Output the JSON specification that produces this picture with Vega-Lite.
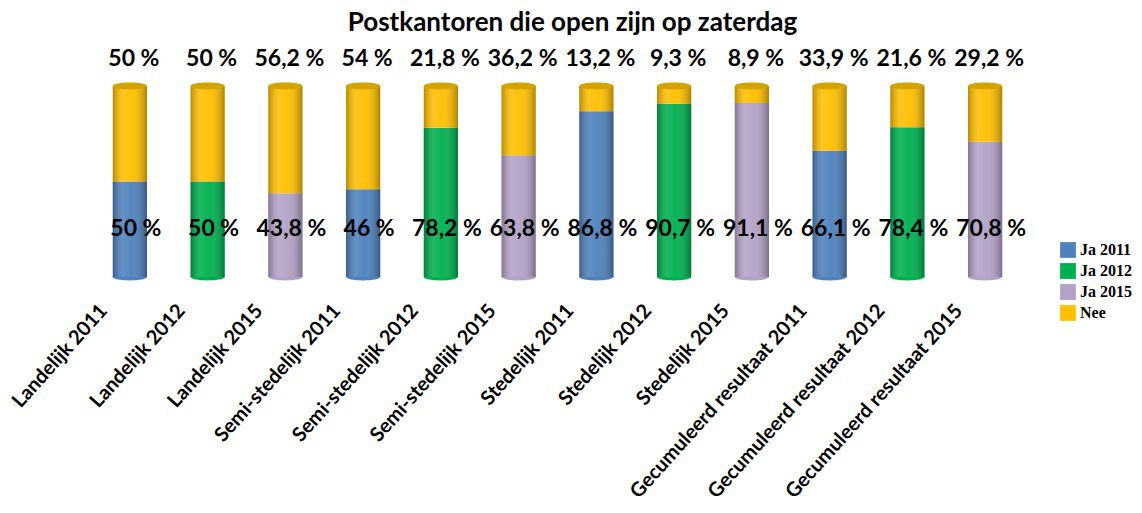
{
  "$schema": "https://vega.github.io/schema/vega-lite/v6.json",
  "autosize": {"type": "none"},
  "width": 933,
  "height": 191,
  "padding": {"left": 91, "top": 86, "right": 118, "bottom": 236},
  "background": "white",
  "view": {"stroke": null},
  "title": {
    "text": "Postkantoren die open zijn op zaterdag",
    "font": "Lato",
    "fontSize": 26,
    "fontWeight": "bold",
    "color": "#000000",
    "anchor": "middle",
    "dx": 15,
    "offset": 12
  },
  "data": {
    "values": [
      {"cat": "Landelijk 2011", "serie": "Ja 2011", "value": 50},
      {"cat": "Landelijk 2011", "serie": "Nee", "value": 50},
      {"cat": "Landelijk 2012", "serie": "Ja 2012", "value": 50},
      {"cat": "Landelijk 2012", "serie": "Nee", "value": 50},
      {"cat": "Landelijk 2015", "serie": "Ja 2015", "value": 43.8},
      {"cat": "Landelijk 2015", "serie": "Nee", "value": 56.2},
      {"cat": "Semi-stedelijk 2011", "serie": "Ja 2011", "value": 46},
      {"cat": "Semi-stedelijk 2011", "serie": "Nee", "value": 54},
      {"cat": "Semi-stedelijk 2012", "serie": "Ja 2012", "value": 78.2},
      {"cat": "Semi-stedelijk 2012", "serie": "Nee", "value": 21.8},
      {"cat": "Semi-stedelijk 2015", "serie": "Ja 2015", "value": 63.8},
      {"cat": "Semi-stedelijk 2015", "serie": "Nee", "value": 36.2},
      {"cat": "Stedelijk 2011", "serie": "Ja 2011", "value": 86.8},
      {"cat": "Stedelijk 2011", "serie": "Nee", "value": 13.2},
      {"cat": "Stedelijk 2012", "serie": "Ja 2012", "value": 90.7},
      {"cat": "Stedelijk 2012", "serie": "Nee", "value": 9.3},
      {"cat": "Stedelijk 2015", "serie": "Ja 2015", "value": 91.1},
      {"cat": "Stedelijk 2015", "serie": "Nee", "value": 8.9},
      {"cat": "Gecumuleerd resultaat 2011", "serie": "Ja 2011", "value": 66.1},
      {"cat": "Gecumuleerd resultaat 2011", "serie": "Nee", "value": 33.9},
      {"cat": "Gecumuleerd resultaat 2012", "serie": "Ja 2012", "value": 78.4},
      {"cat": "Gecumuleerd resultaat 2012", "serie": "Nee", "value": 21.6},
      {"cat": "Gecumuleerd resultaat 2015", "serie": "Ja 2015", "value": 70.8},
      {"cat": "Gecumuleerd resultaat 2015", "serie": "Nee", "value": 29.2}
    ]
  },
  "transform": [
    {"calculate": "replace(toString(datum.value), '.', ',') + ' %'", "as": "label"}
  ],
  "encoding": {
    "x": {
      "field": "cat",
      "type": "nominal",
      "sort": null,
      "title": null,
      "scale": {"paddingInner": 0.56, "paddingOuter": 0.28},
      "axis": {
        "domain": false,
        "ticks": false,
        "grid": false,
        "labelAngle": -48,
        "labelFont": "Lato",
        "labelFontSize": 20,
        "labelFontWeight": "bold",
        "labelColor": "#000000",
        "labelPadding": 30,
        "labelOffset": -26,
        "labelLimit": 400
      }
    }
  },
  "layer": [
    {
      "transform": [{"filter": "datum.serie != 'Nee'"}],
      "mark": {"type": "point", "shape": "M -1 0 A 1 0.2 0 1 1 1 0 A 1 0.2 0 1 1 -1 0 Z", "filled": true, "opacity": 1, "size": 1170},
      "encoding": {
        "y": {"datum": 0, "type": "quantitative", "scale": {"domain": [0, 100], "nice": false}, "axis": null},
        "color": {"field": "serie", "type": "nominal"}
      }
    },
    {
      "mark": {"type": "bar"},
      "encoding": {
        "y": {"field": "value", "type": "quantitative", "stack": "zero", "scale": {"domain": [0, 100], "nice": false}, "axis": null},
        "order": {"field": "serie", "sort": "ascending"},
        "color": {
          "field": "serie",
          "type": "nominal",
          "scale": {"domain": ["Ja 2011", "Ja 2012", "Ja 2015", "Nee"], "range": ["#4f81bd", "#00b050", "#b3a2c7", "#ffc000"]},
          "legend": {
            "title": null,
            "orient": "none",
            "legendX": 969,
            "legendY": 156,
            "symbolType": "square",
            "symbolSize": 250,
            "symbolStrokeWidth": 0,
            "labelFont": "Liberation Serif",
            "labelFontSize": 16,
            "labelFontWeight": "bold",
            "labelColor": "#000000",
            "rowPadding": 5,
            "padding": 0
          }
        }
      }
    },
    {
      "transform": [{"filter": "datum.serie == 'Nee'"}],
      "mark": {
        "type": "bar",
        "color": {
          "gradient": "linear",
          "x1": 0, "y1": 0, "x2": 1, "y2": 0,
          "stops": [
            {"offset": 0, "color": "rgba(0,0,0,0.28)"},
            {"offset": 0.3, "color": "rgba(255,255,255,0.12)"},
            {"offset": 0.55, "color": "rgba(255,255,255,0.04)"},
            {"offset": 1, "color": "rgba(0,0,0,0.32)"}
          ]
        }
      },
      "encoding": {
        "y": {"datum": 100, "type": "quantitative"},
        "y2": {"datum": 0}
      }
    },
    {
      "transform": [{"filter": "datum.serie == 'Nee'"}],
      "mark": {"type": "point", "shape": "M -1 0 A 1 0.2 0 1 1 1 0 A 1 0.2 0 1 1 -1 0 Z", "filled": true, "opacity": 1, "size": 1170, "color": "#d4a300"},
      "encoding": {
        "y": {"datum": 100, "type": "quantitative"}
      }
    },
    {
      "transform": [{"filter": "datum.serie == 'Nee'"}],
      "mark": {"type": "text", "font": "Lato", "fontSize": 23, "fontWeight": "bold", "color": "#000000", "baseline": "middle", "dx": 4},
      "encoding": {
        "y": {"datum": 114, "type": "quantitative"},
        "text": {"field": "label"}
      }
    },
    {
      "transform": [{"filter": "datum.serie != 'Nee'"}],
      "mark": {"type": "text", "font": "Lato", "fontSize": 23, "fontWeight": "bold", "color": "#000000", "baseline": "middle", "dx": 6},
      "encoding": {
        "y": {"datum": 25, "type": "quantitative"},
        "text": {"field": "label"}
      }
    }
  ]
}
